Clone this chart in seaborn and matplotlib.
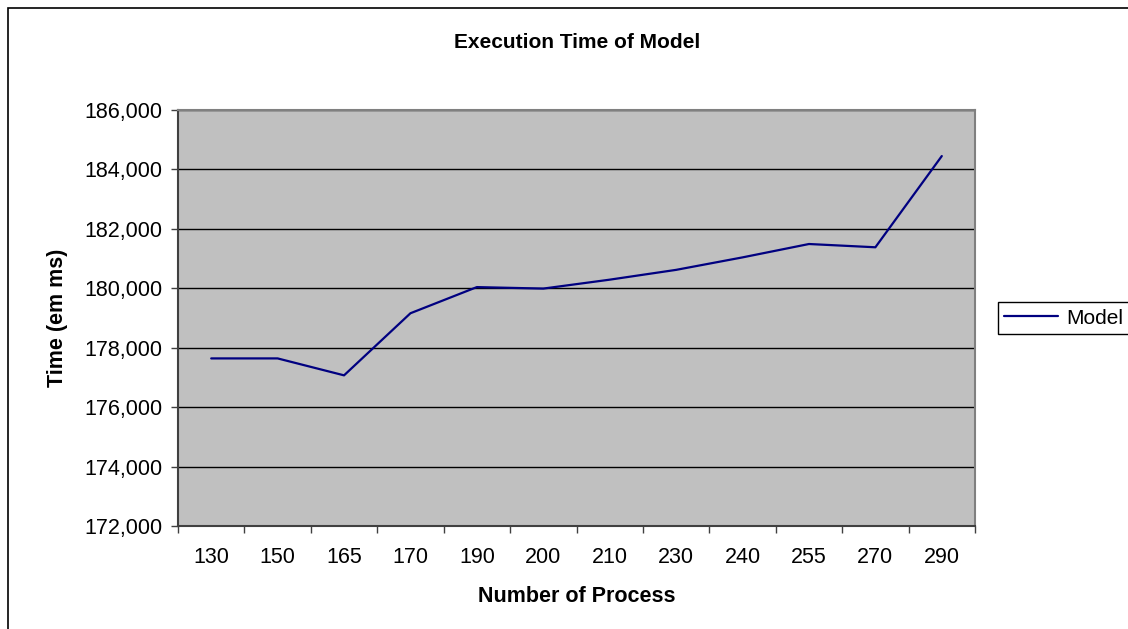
import matplotlib
matplotlib.use('Agg')
import matplotlib.pyplot as plt
import matplotlib.patches as patches
from matplotlib.ticker import FuncFormatter, FixedLocator
import pandas as pd
import seaborn as sns

# data
processes = ['130', '150', '165', '170', '190', '200', '210', '230', '240', '255', '270', '290']
exec_time = [177640, 177640, 177070, 179160, 180040, 179990, 180290, 180620, 181040, 181490, 181380, 184450]
y_ticks = [172000, 174000, 176000, 178000, 180000, 182000, 184000, 186000]

df = pd.DataFrame({'Process': processes, 'Time': exec_time})

sns.set_theme(style='white')
plt.rcParams['font.family'] = ['Liberation Sans', 'DejaVu Sans']
plt.rcParams['text.color'] = 'black'
plt.rcParams['axes.labelcolor'] = 'black'

fig = plt.figure(figsize=(11.28, 6.29), dpi=100)
ax = fig.add_axes([178 / 1128, 1 - 526 / 629, (975 - 178) / 1128, (526 - 110) / 629])
ax.set_facecolor('#c0c0c0')

sns.lineplot(data=df, x='Process', y='Time', color='#000080', linewidth=1.6, ax=ax, label='Model', legend=False)

ax.set_xlim(-0.5, len(processes) - 0.5)
ax.set_ylim(y_ticks[0], y_ticks[-1])
ax.set_yticks(y_ticks)
ax.yaxis.set_major_formatter(FuncFormatter(lambda v, p: f'{int(v):,}'))
ax.grid(axis='y', color='black', linewidth=1)
ax.set_axisbelow(True)

# Excel style: tick marks between categories, labels at centres
ax.set_xticks(range(len(processes)))
ax.set_xticklabels(processes)
ax.xaxis.set_minor_locator(FixedLocator([i - 0.5 for i in range(len(processes) + 1)]))
ax.tick_params(axis='x', which='major', length=0, pad=15, labelsize=15.5, labelcolor='black')
ax.tick_params(axis='x', which='minor', length=5, width=1, color='#404040', direction='out', bottom=True)
ax.tick_params(axis='y', which='major', length=5, width=1, color='#404040', direction='out', left=True,
               labelsize=15.5, labelcolor='black', pad=6)

for side in ['left', 'bottom']:
    ax.spines[side].set_color('#404040')
    ax.spines[side].set_linewidth(1.5)
for side in ['top', 'right']:
    ax.spines[side].set_color('#808080')
    ax.spines[side].set_linewidth(1.5)

ax.set_xlabel('Number of Process', fontsize=15.5, fontweight='bold', labelpad=13)
ax.set_ylabel('Time (em ms)', fontsize=15.5, fontweight='bold', labelpad=12)
fig.text(577 / 1128, 1 - 42 / 629, 'Execution Time of Model', ha='center', va='center',
         fontsize=15, fontweight='bold')

leg = fig.legend(loc='center left', bbox_to_anchor=(998 / 1128, 1 - 318 / 629), fontsize=15,
                 frameon=True, fancybox=False, framealpha=1, edgecolor='black', borderaxespad=0,
                 handlelength=2.6, borderpad=0.3, handletextpad=0.4)
leg.get_frame().set_linewidth(1)

# outer chart border
border = patches.Rectangle((8 / 1128, -0.05), 1.1, 1 - 8 / 629 + 0.05, transform=fig.transFigure,
                           fill=False, edgecolor='black', linewidth=1.2, clip_on=False)
fig.patches.append(border)

plt.savefig('out.png', dpi=100)
plt.close()
